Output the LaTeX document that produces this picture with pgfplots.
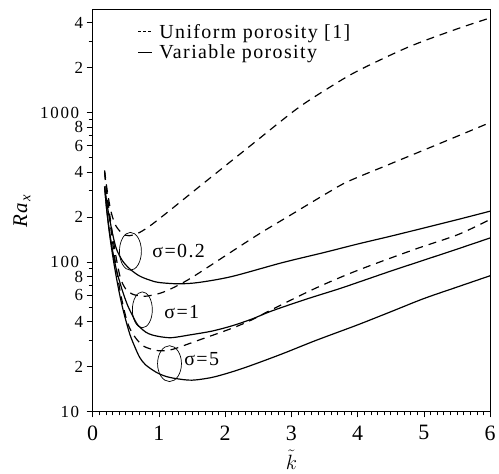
\documentclass[border=0pt]{standalone}
\usepackage{pgfplots}
\pgfplotsset{compat=1.18}
\usetikzlibrary{calc}
\usepackage{fontspec}
\setmainfont{Liberation Serif}
\newfontfamily\spaced[LetterSpace=7]{Liberation Serif}
\newfontfamily\tickspaced[LetterSpace=10]{Liberation Serif}
\begin{document}
\begin{tikzpicture}
\begin{axis}[
  scale only axis, width=399pt, height=403pt,
  xmin=0, xmax=6, ymode=log, ymin=10, ymax=4860,
  xtick={0,1,2,3,4,5,6}, minor x tick num=9,
  ytick={10,100,1000}, yticklabels={10,100,1000},
  minor ytick={30,50,70,90,300,500,700,900,3000},
  extra y ticks={20,40,60,80,200,400,600,800,2000,4000},
  extra y tick labels={2,4,6,8,2,4,6,8,2,4},
  extra y tick style={yticklabel style={xshift=4pt}},
  tick align=outside, xtick pos=bottom, ytick pos=left,
  major tick length=6pt, minor tick length=4pt,
  tick style={black, line width=0.8pt},
  axis line style={line width=1pt},
  /pgf/number format/assume math mode=true,
  xticklabel style={font=\fontsize{22}{24}\selectfont, inner ysep=0pt, yshift=-8pt},
  yticklabel style={font=\fontsize{17}{19}\selectfont\tickspaced, inner ysep=0pt, xshift=-4pt},
  legend style={draw=none, fill=none, at={(0.105,0.975)}, anchor=north west,
    font=\fontsize{20}{22}\selectfont\spaced, row sep=1pt, column sep=5pt},
  legend cell align=left,
  legend image code/.code={\draw[#1, line width=0.9pt] (0pt,0pt) -- (14pt,0pt);},
]
\addlegendimage{dash pattern=on 3pt off 2pt}
\addlegendentry{Uniform porosity [1]}
\addlegendimage{solid}
\addlegendentry{Variable porosity}

% Variable porosity (solid)
\addplot[black, line width=1.2pt, smooth, forget plot] coordinates {
(0.18,320)(0.23,225)(0.3,155)(0.36,122)(0.45,102)(0.56,90)(0.7,81)(0.85,76)(1.0,73)(1.3,71.5)(1.6,73)(2.1,80)(2.86,99)(3.5,116)(4.0,132)(4.5,149)(5.0,169)(5.5,192)(6.0,219)};
\addplot[black, line width=1.2pt, smooth, forget plot] coordinates {
(0.18,320)(0.21,230)(0.25,165)(0.3,120)(0.36,88)(0.45,64)(0.53,51)(0.6,44)(0.68,38)(0.8,34)(0.9,32.5)(1.05,31.5)(1.2,31.2)(1.46,32.5)(1.8,34.5)(2.1,37.4)(2.4,41.5)(2.7,47)(3.2,56)(3.71,66)(4.0,73)(4.5,87)(5.0,103)(5.5,122)(6.0,145)};
\addplot[black, line width=1.2pt, smooth, forget plot] coordinates {
(0.18,320)(0.21,228)(0.25,160)(0.3,112)(0.36,78)(0.42,57)(0.48,44)(0.56,33)(0.63,27.5)(0.71,23)(0.8,20.5)(0.96,18.3)(1.1,17.2)(1.26,16.6)(1.5,16.2)(1.8,16.9)(2.1,18.4)(2.4,20.4)(2.86,24.3)(3.37,29.9)(4.0,38)(4.5,46.5)(5.0,57)(5.5,68)(6.0,81)};

% Uniform porosity (dashed)
\addplot[black, line width=1.2pt, dash pattern=on 8pt off 6pt, smooth, forget plot] coordinates {
(0.18,410)(0.22,300)(0.28,215)(0.35,175)(0.45,155)(0.55,150)(0.7,157)(0.86,174)(1.0,194)(1.2,228)(1.5,292)(1.95,422)(2.36,590)(3.07,1050)(3.56,1460)(4.0,1900)(4.77,2750)(5.5,3630)(6.0,4300)};
\addplot[black, line width=1.2pt, dash pattern=on 8pt off 6pt, smooth, forget plot] coordinates {
(0.18,400)(0.22,280)(0.28,175)(0.35,110)(0.42,78)(0.5,66)(0.6,61)(0.75,59)(0.9,60)(1.11,64)(1.46,77)(2.0,110)(2.51,154)(3.0,208)(3.56,293)(3.86,347)(4.5,455)(5.2,611)(6.0,858)};
\addplot[black, line width=1.2pt, dash pattern=on 8pt off 6pt, smooth, forget plot] coordinates {
(0.18,400)(0.22,270)(0.28,160)(0.35,95)(0.42,62)(0.5,43)(0.56,36)(0.65,31)(0.76,27.5)(0.9,26)(1.0,25.5)(1.2,26)(1.6,30)(2.1,36)(2.4,41)(2.7,48)(3.37,67)(4.0,88)(4.87,122)(5.52,153)(6.0,193)};

% ellipses and labels
\draw[line width=0.7pt] (axis cs:0.57,118) ellipse [x radius=11pt, y radius=19pt];
\draw[line width=0.7pt] (axis cs:0.75,47.9) ellipse [x radius=10pt, y radius=18pt];
\draw[line width=0.7pt] (axis cs:1.16,20.9) ellipse [x radius=12pt, y radius=18pt];
\node[anchor=west, inner sep=0pt, font=\fontsize{20}{22}\selectfont\spaced] at (axis cs:0.9,118) {σ=0.2};
\node[anchor=west, inner sep=0pt, font=\fontsize{20}{22}\selectfont\spaced] at (axis cs:1.08,46) {σ=1};
\node[anchor=west, inner sep=0pt, font=\fontsize{20}{22}\selectfont\spaced] at (axis cs:1.38,22.5) {σ=5};

\coordinate (ll) at (rel axis cs:0,0);
\coordinate (ur) at (rel axis cs:1,1);
\end{axis}
\node[rotate=90, font=\fontsize{21}{24}\selectfont\spaced] at ([xshift=-71pt]$(ll)!0.5!(ll|-ur)$) {\textit{Ra}\textsubscript{\textit{x}}};
\node[anchor=base, inner sep=0pt, font=\fontsize{21}{23}\selectfont] at ([yshift=-58pt]$(ll)!0.5!(ll-|ur)$) {$\tilde{k}$};
\path (ll) ++(-93pt,-62pt);
\path (ur) ++(7pt,10pt);
\end{tikzpicture}
\end{document}
